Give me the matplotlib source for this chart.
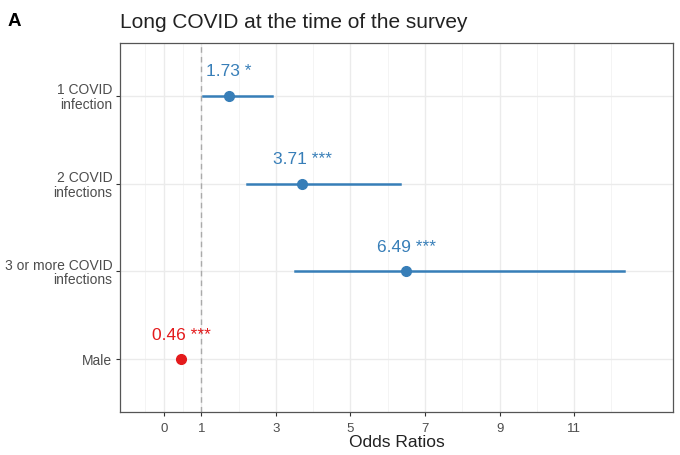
import numpy as np
import matplotlib.pyplot as plt

plt.rcParams['font.family'] = ['Liberation Sans', 'DejaVu Sans']

# Odds ratios with 95% CI
labels = ['1 COVID\ninfection', '2 COVID\ninfections', '3 or more COVID\ninfections', 'Male']
odds = [1.73, 3.71, 6.49, 0.46]
ci_low = [1.05, 2.22, 3.51, 0.42]
ci_high = [2.90, 6.33, 12.33, 0.50]
stars = ['*', '***', '***', '***']
colors = ['#377EB8', '#377EB8', '#377EB8', '#E41A1C']

xticks = [0, 1, 3, 5, 7, 9, 11]
xminor = [-0.5, 0.5, 2, 4, 6, 8, 10, 12]

fig = plt.figure(figsize=(6.8, 4.55), dpi=100)
ax = fig.add_axes([0.1765, 0.0945, 0.8132, 0.811])

ypos = np.arange(len(labels))

for x in xminor:
    ax.axvline(x, color='#f2f2f2', lw=0.6, zorder=0)
for x in xticks:
    ax.axvline(x, color='#ebebeb', lw=1.0, zorder=0)
for y in ypos:
    ax.axhline(y, color='#ebebeb', lw=1.0, zorder=0)

ax.axvline(1, color='#aaaaaa', lw=1.0, ls=(0, (4, 3)), zorder=1)

for i in range(len(labels)):
    ax.plot([ci_low[i], ci_high[i]], [ypos[i], ypos[i]], color=colors[i], lw=1.8, zorder=2)
    ax.plot(odds[i], ypos[i], 'o', color=colors[i], ms=7, zorder=3)
    ax.text(odds[i], ypos[i] - 0.22, f'{odds[i]:.2f} {stars[i]}', color=colors[i],
            ha='center', va='baseline', fontsize=12.5)

ax.set_xlim(-1.18, 13.65)
ax.set_ylim(3.6, -0.6)
ax.set_xticks(xticks)
ax.set_yticks(ypos)
ax.set_yticklabels(labels, fontsize=10, color='#4d4d4d', linespacing=1.05)
ax.tick_params(axis='x', labelsize=9.5, labelcolor='#4d4d4d', length=3, color='#333333', pad=5)
ax.tick_params(axis='y', length=3, color='#333333', pad=2.5)
for s in ax.spines.values():
    s.set_color('#555555')
    s.set_linewidth(0.9)

ax.set_xlabel('Odds Ratios', fontsize=12.5, color='#222222', labelpad=0)
fig.text(0.1765, 0.95, 'Long COVID at the time of the survey', fontsize=15,
         color='#222222', ha='left', va='center')
fig.text(0.011, 0.952, 'A', fontsize=13.5, fontweight='bold', ha='left', va='center')

fig.savefig('out.png', dpi=100)
